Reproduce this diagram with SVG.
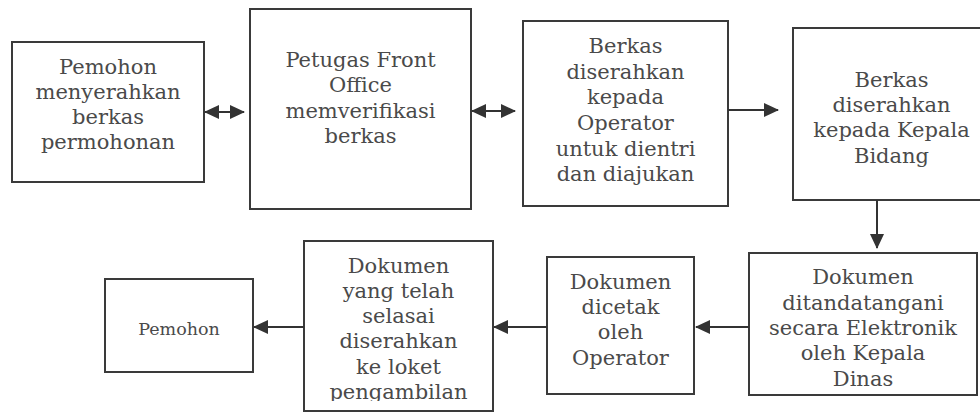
<svg xmlns="http://www.w3.org/2000/svg" width="980" height="412" viewBox="0 0 980 412">
<style>
  .box { fill: #ffffff; stroke: #3a3a3a; stroke-width: 2; }
  .lbl { font-family: "DejaVu Serif", "Liberation Serif", serif; font-size: 21px; fill: #4a4a4a; text-anchor: middle; }
  .sm { font-size: 17.5px; }
  .conn { stroke: #333333; stroke-width: 2; fill: none; }
</style>
<defs>
  <marker id="ah" markerUnits="userSpaceOnUse" markerWidth="15" markerHeight="14" refX="14" refY="7" orient="auto-start-reverse">
    <path d="M0,0 L15,7 L0,14 Z" fill="#333333"/>
  </marker>
  <clipPath id="clip7"><rect x="300" y="236" width="200" height="165"/></clipPath>
</defs>
<rect width="980" height="412" fill="#ffffff"/>

<g id="n1">
  <rect class="box" x="12" y="42" width="192" height="140"/>
  <text class="lbl" x="108" y="74">Pemohon</text>
  <text class="lbl" x="108" y="99">menyerahkan</text>
  <text class="lbl" x="108" y="124">berkas</text>
  <text class="lbl" x="108" y="149">permohonan</text>
</g>

<g id="n2">
  <rect class="box" x="250" y="9" width="221" height="200"/>
  <text class="lbl" x="360.5" y="67">Petugas Front</text>
  <text class="lbl" x="360.5" y="92">Office</text>
  <text class="lbl" x="360.5" y="118">memverifikasi</text>
  <text class="lbl" x="360.5" y="143">berkas</text>
</g>

<g id="n3">
  <rect class="box" x="523" y="21" width="205" height="185"/>
  <text class="lbl" x="625.5" y="53">Berkas</text>
  <text class="lbl" x="625.5" y="79">diserahkan</text>
  <text class="lbl" x="625.5" y="104">kepada</text>
  <text class="lbl" x="625.5" y="130">Operator</text>
  <text class="lbl" x="625.5" y="156">untuk dientri</text>
  <text class="lbl" x="625.5" y="181">dan diajukan</text>
</g>

<g id="n4">
  <rect class="box" x="793" y="28" width="197" height="172"/>
  <text class="lbl" x="891.5" y="87">Berkas</text>
  <text class="lbl" x="891.5" y="112">diserahkan</text>
  <text class="lbl" x="891.5" y="137">kepada Kepala</text>
  <text class="lbl" x="891.5" y="163">Bidang</text>
</g>

<g id="n5">
  <rect class="box" x="749" y="253" width="228" height="142"/>
  <text class="lbl" x="863" y="284">Dokumen</text>
  <text class="lbl" x="863" y="310">ditandatangani</text>
  <text class="lbl" x="863" y="335">secara Elektronik</text>
  <text class="lbl" x="863" y="360">oleh Kepala</text>
  <text class="lbl" x="863" y="386">Dinas</text>
</g>

<g id="n6">
  <rect class="box" x="547" y="257" width="147" height="137"/>
  <text class="lbl" x="620.5" y="289">Dokumen</text>
  <text class="lbl" x="620.5" y="314">dicetak</text>
  <text class="lbl" x="620.5" y="339">oleh</text>
  <text class="lbl" x="620.5" y="365">Operator</text>
</g>

<g id="n7">
  <rect class="box" x="304" y="241" width="189" height="170"/>
  <g clip-path="url(#clip7)">
    <text class="lbl" x="398.5" y="273">Dokumen</text>
    <text class="lbl" x="398.5" y="298">yang telah</text>
    <text class="lbl" x="398.5" y="323">selasai</text>
    <text class="lbl" x="398.5" y="348">diserahkan</text>
    <text class="lbl" x="398.5" y="374">ke loket</text>
    <text class="lbl" x="398.5" y="399">pengambilan</text>
  </g>
</g>

<g id="n8">
  <rect class="box" x="105" y="279" width="148" height="93"/>
  <text class="lbl sm" x="179" y="335">Pemohon</text>
</g>

<g id="connectors">
  <line class="conn" x1="205" y1="112" x2="244" y2="112" marker-start="url(#ah)" marker-end="url(#ah)"/>
  <line class="conn" x1="472" y1="111" x2="515" y2="111" marker-start="url(#ah)" marker-end="url(#ah)"/>
  <line class="conn" x1="728" y1="110" x2="778" y2="110" marker-end="url(#ah)"/>
  <line class="conn" x1="877" y1="200" x2="877" y2="248" marker-end="url(#ah)"/>
  <line class="conn" x1="749" y1="327" x2="696" y2="327" marker-end="url(#ah)"/>
  <line class="conn" x1="547" y1="327" x2="494" y2="327" marker-end="url(#ah)"/>
  <line class="conn" x1="304" y1="327" x2="254" y2="327" marker-end="url(#ah)"/>
</g>
</svg>
